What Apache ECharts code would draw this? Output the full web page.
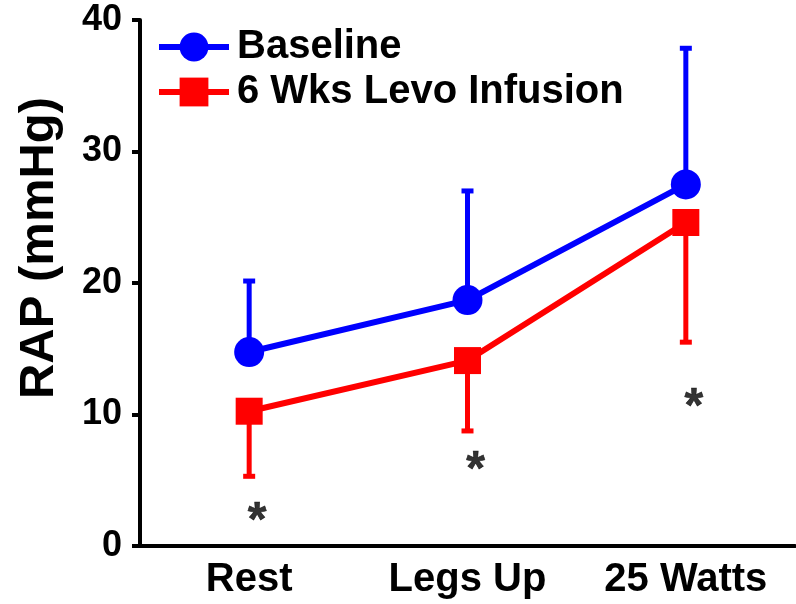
<!DOCTYPE html>
<html>
<head>
<meta charset="utf-8">
<script src="https://cdn.jsdelivr.net/npm/echarts@6/dist/echarts.min.js"></script>
<style>
  html, body { margin: 0; padding: 0; background: #fff; }
  #chart { width: 796px; height: 604px; }
</style>
</head>
<body>
<div id="chart"></div>
<script>
// Right atrial pressure across exercise stages, before and after levosimendan
const stages = ['Rest', 'Legs Up', '25 Watts'];
const baselineMean = [14.75, 18.7, 27.5];
const baselineSD = [5.4, 8.3, 10.35];      // drawn upward only
const levoMean = [10.25, 14.1, 24.6];
const levoSD = [4.95, 5.35, 9.1];          // drawn downward only
const sigMarkAt = [2.6, 6.5, 11.3];        // y value of the significance asterisks
const yTicks = { min: 0, max: 40, step: 10 };

const BLUE = '#0000FF';
const RED = '#FF0000';
const FONT = '"Liberation Sans", Arial, Helvetica, sans-serif';

// one-sided error bar: stem from mean to (mean ± sd) with a short cap
function errorBar(color) {
  return function (params, api) {
    const i = api.value(0);
    const p0 = api.coord([i, api.value(1)]);
    const p1 = api.coord([i, api.value(2)]);
    const cap = 6;
    return {
      type: 'group',
      children: [
        { type: 'line', shape: { x1: p0[0], y1: p0[1], x2: p1[0], y2: p1[1] },
          style: { stroke: color, lineWidth: 5 } },
        { type: 'line', shape: { x1: p1[0] - cap, y1: p1[1], x2: p1[0] + cap, y2: p1[1] },
          style: { stroke: color, lineWidth: 5 } }
      ]
    };
  };
}

const chart = echarts.init(document.getElementById('chart'));
chart.setOption({
  animation: false,
  backgroundColor: '#fff',
  textStyle: { fontFamily: FONT },
  grid: { left: 140, right: 1, top: 20, bottom: 58, outerBoundsMode: 'none' },
  legend: {
    orient: 'vertical',
    left: 151, top: 22,
    itemWidth: 70, itemHeight: 36, itemGap: 5,
    lineStyle: { width: 6 },
    textStyle: { fontSize: 40, lineHeight: 40, fontWeight: 'bold', color: '#000', fontFamily: FONT, padding: [0, 0, 0, 3] },
    data: ['Baseline', '6 Wks Levo Infusion']
  },
  xAxis: {
    type: 'category',
    data: stages,
    boundaryGap: true,
    axisLine: { lineStyle: { color: '#000', width: 4 } },
    axisTick: { alignWithLabel: true, length: 8, lineStyle: { color: '#000', width: 4 } },
    axisLabel: { fontSize: 40, fontWeight: 'bold', color: '#000', margin: 14, fontFamily: FONT },
    splitLine: { show: false }
  },
  yAxis: {
    type: 'value',
    min: yTicks.min, max: yTicks.max, interval: yTicks.step,
    name: 'RAP (mmHg)',
    nameLocation: 'middle',
    nameRotate: 90,
    nameGap: 76,
    nameTextStyle: { fontSize: 49, fontWeight: 'bold', color: '#000', fontFamily: FONT, padding: [0, 0, 0, 70] },
    axisLine: { show: true, lineStyle: { color: '#000', width: 4 } },
    axisTick: { show: true, length: 8, lineStyle: { color: '#000', width: 4 } },
    axisLabel: { fontSize: 36, fontWeight: 'bold', color: '#000', margin: 18, fontFamily: FONT },
    splitLine: { show: false }
  },
  series: [
    {
      type: 'custom',
      name: 'baselineErr',
      renderItem: errorBar(BLUE),
      data: baselineMean.map((m, i) => [i, m, m + baselineSD[i]]),
      z: 1
    },
    {
      type: 'custom',
      name: 'levoErr',
      renderItem: errorBar(RED),
      data: levoMean.map((m, i) => [i, m, m - levoSD[i]]),
      z: 1
    },
    {
      type: 'line',
      name: 'Baseline',
      data: baselineMean,
      symbol: 'circle',
      symbolSize: 30,
      lineStyle: { color: BLUE, width: 6 },
      itemStyle: { color: BLUE },
      z: 3
    },
    {
      type: 'line',
      name: '6 Wks Levo Infusion',
      data: levoMean,
      symbol: 'rect',
      symbolSize: 27,
      lineStyle: { color: RED, width: 6 },
      itemStyle: { color: RED },
      z: 3
    },
    {
      type: 'scatter',
      name: 'sig',
      data: sigMarkAt.map((v, i) => [i, v]),
      symbolSize: 0,
      label: {
        show: true,
        formatter: '*',
        position: 'inside',
        offset: [8, 10],
        fontSize: 48,
        fontWeight: 'bold',
        color: '#000',
        textBorderColor: '#000',
        textBorderWidth: 0.6,
        fontFamily: FONT
      },
      z: 4
    }
  ]
});
</script>
</body>
</html>
